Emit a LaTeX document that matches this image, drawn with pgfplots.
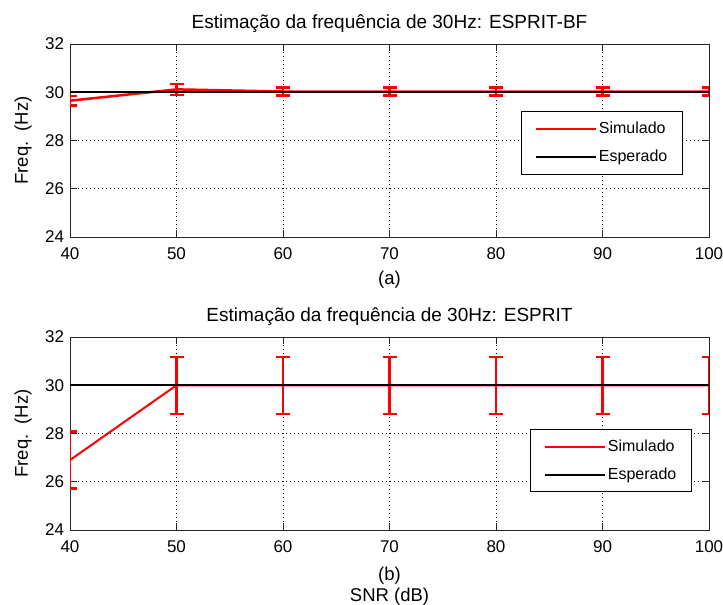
\documentclass[border=0pt]{standalone}
\usepackage{fontspec}
\setmainfont{Liberation Sans}
\usepackage{pgfplots}
\pgfplotsset{compat=1.18}
\newcommand{\fs}{\fontsize{17bp}{20bp}\selectfont}
\newcommand{\fstitle}{\fontsize{19bp}{22bp}\selectfont}
\newcommand{\fslab}{\fontsize{18.5bp}{21bp}\selectfont}
\newcommand{\fsleg}{\fontsize{16bp}{19bp}\selectfont}
\begin{document}
\fs
\begin{tikzpicture}
\useasboundingbox (0,0) rectangle (723bp,-605bp);
\pgfplotsset{
  myax/.style={
    scale only axis, width=639bp, height=193bp,
    xmin=40, xmax=100, ymin=24, ymax=32,
    xtick={40,50,...,100}, ytick={24,26,...,32},
    grid=major,
    grid style={black, line width=0.7bp, dash pattern=on 0.9bp off 3.1bp},
    tick align=inside, major tick length=7bp,
    axis line style={line width=0.9bp, black!85},
    every tick/.style={black!85, line width=0.9bp},
    tick label style={font=\fs},
    xticklabel style={yshift=-5bp},
    /pgf/number format/assume math mode=true,
    every axis title shift=0pt,
    title style={font=\fstitle, at={(axis description cs:0.5,1)}, anchor=center, yshift=20bp},
    ylabel={Freq.\ \ (Hz)},
    ylabel style={font=\fslab, at={([xshift=-47bp]axis description cs:0,0.5)}, anchor=center},
    clip marker paths=true,
    legend style={draw=black, line width=0.8bp, fill=white, font=\fsleg,
      anchor=north east, inner xsep=13bp, inner ysep=8bp, row sep=10bp,
      nodes={inner sep=2bp},
      legend cell align=left},
    legend image code/.code={\draw[##1] (0bp,0bp) -- (60bp,0bp);},
  },
  simstyle/.style={red, line width=#1,
    error bars/.cd, y dir=both, y explicit,
    error bar style={red, line width=2.2bp},
    error mark=|,
    error mark options={red, mark size=7bp, line width=2.4bp}},
  simstyle/.default=2bp,
}
\begin{axis}[myax, at={(70bp,-237bp)}, anchor=south west,
  title={Estimação da frequência de 30Hz: ESPRIT-BF},
  xlabel={(a)},
  xlabel style={font=\fslab, at={([yshift=-43bp]axis description cs:0.5,0)}, anchor=center},
  legend style={at={(0.959,0.651)}}]
\addplot[simstyle=2.5bp] coordinates {
  (40,29.65) +- (0,0.20)
  (50,30.12) +- (0,0.23)
  (60,30.03) +- (0,0.17)
  (70,30.03) +- (0,0.17)
  (80,30.03) +- (0,0.17)
  (90,30.03) +- (0,0.17)
  (100,30.03) +- (0,0.17)
};
\addlegendentry{Simulado}
\addplot[black, line width=2bp] coordinates {(40,30) (100,30)};
\addlegendentry{Esperado}
\end{axis}
\begin{axis}[myax, at={(70bp,-530bp)}, anchor=south west,
  title={Estimação da frequência de 30Hz: ESPRIT},
  xlabel={(b)\\SNR (dB)},
  xlabel style={font=\fslab, at={([yshift=-56bp]axis description cs:0.5,0)}, anchor=center, align=center},
  legend style={at={(0.973,0.523)}}]
\addplot[simstyle] coordinates {
  (40,26.9) +- (0,1.18)
  (50,30.0) +- (0,1.18)
  (60,30.0) +- (0,1.18)
  (70,30.0) +- (0,1.18)
  (80,30.0) +- (0,1.18)
  (90,30.0) +- (0,1.18)
  (100,30.0) +- (0,1.18)
};
\addlegendentry{Simulado}
\addplot[black, line width=2bp] coordinates {(40,30) (100,30)};
\addlegendentry{Esperado}
\end{axis}
\end{tikzpicture}
\end{document}
